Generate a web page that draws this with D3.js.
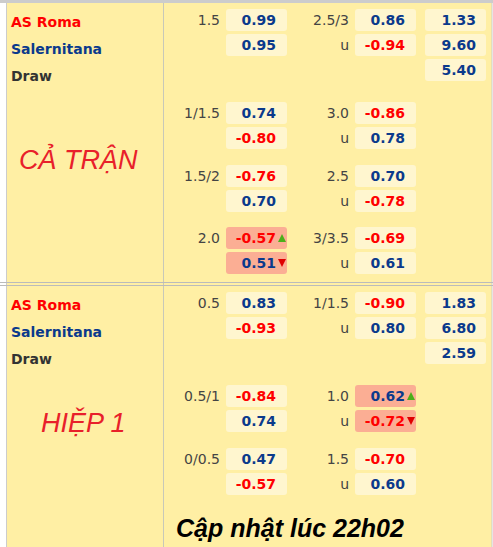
<!DOCTYPE html>
<html><head><meta charset="utf-8">
<script src="https://cdn.jsdelivr.net/npm/d3@7"></script>
<style>body{margin:0;background:#fff}svg{display:block}</style>
</head><body><svg id="c" width="493" height="547"></svg>
<script>
// rows: [col1Label, col1Val, col2Label, col2Val]
const teams = ["AS Roma", "Salernitana", "Draw"];
const teamColors = ["#ff0000", "#0b3a8c", "#333"];
const sections = ["CẢ TRẬN", "HIỆP 1"];
const handicap = [
  // section 0
  [["1.5", 0.99, "2.5/3", 0.86], ["", 0.95, "u", -0.94],
   ["1/1.5", 0.74, "3.0", -0.86], ["", -0.80, "u", 0.78],
   ["1.5/2", -0.76, "2.5", 0.70], ["", 0.70, "u", -0.78],
   ["2.0", -0.57, "3/3.5", -0.69], ["", 0.51, "u", 0.61]],
  // section 1
  [["0.5", 0.83, "1/1.5", -0.90], ["", -0.93, "u", 0.80],
   ["0.5/1", -0.84, "1.0", 0.62], ["", 0.74, "u", -0.72],
   ["0/0.5", 0.47, "1.5", -0.70], ["", -0.57, "u", 0.60]]
];
const odds1x2 = [["1.33", "9.60", "5.40"], ["1.83", "6.80", "2.59"]];
// highlighted cells: [section, row, col, dir]
const changed = [[0, 6, 0, "up"], [0, 7, 0, "down"], [1, 2, 1, "up"], [1, 3, 1, "down"]];
const footer = "Cập nhật lúc 22h02";

const svg = d3.select("#c");
const font = "Tahoma, 'DejaVu Sans', sans-serif";
const blue = "#0b3a8c", red = "#ff0000";

svg.append("rect").attr("width", 493).attr("height", 547).attr("fill", "#fff");
svg.append("rect").attr("x", 6).attr("y", 3).attr("width", 486).attr("height", 544).attr("fill", "#ffefa4");
svg.append("line").attr("x1", 0).attr("x2", 493).attr("y1", 1.5).attr("y2", 1.5).attr("stroke", "#ccc").attr("stroke-width", 3);
svg.append("line").attr("x1", 6.5).attr("x2", 6.5).attr("y1", 0).attr("y2", 547).attr("stroke", "#ccc");
svg.append("line").attr("x1", 492).attr("x2", 492).attr("y1", 0).attr("y2", 547).attr("stroke", "#ccc");
svg.append("line").attr("x1", 163.5).attr("x2", 163.5).attr("y1", 3).attr("y2", 547).attr("stroke", "#c8c8b8");
svg.append("line").attr("x1", 0).attr("x2", 493).attr("y1", 282.5).attr("y2", 282.5).attr("stroke", "#bbb");
svg.append("line").attr("x1", 0).attr("x2", 493).attr("y1", 285.5).attr("y2", 285.5).attr("stroke", "#bbb");

const secTop = [9, 292];
const groupTops = [[9, 102, 165, 227], [292, 385, 448]];
const labelCenter = [[160, 423], [19, 41]];
const colBox = [226, 355];
const boxW = 61, boxH = 22, pitch = 25;

sections.forEach((s, si) => {
  const top = secTop[si];
  teams.forEach((t, i) => {
    svg.append("text").attr("x", 11).attr("y", top + 13 + i * 27 + 5)
      .attr("font-family", font).attr("font-weight", "bold").attr("font-size", 14)
      .attr("fill", teamColors[i]).text(t);
  });
  svg.append("text").attr("x", labelCenter[1][si]).attr("y", labelCenter[0][si] + 9)
    .attr("font-family", "'Liberation Sans', Arial, sans-serif").attr("font-style", "italic")
    .attr("font-size", 27).attr("fill", "#e8202a").text(s);

  odds1x2[si].forEach((v, i) => {
    const y = top + i * pitch;
    svg.append("rect").attr("x", 425).attr("y", y).attr("width", boxW).attr("height", boxH).attr("rx", 3).attr("fill", "#fff6cf");
    svg.append("text").attr("x", 476).attr("y", y + 16).attr("text-anchor", "end")
      .attr("font-family", font).attr("font-weight", "bold").attr("font-size", 14).attr("fill", blue).text(v);
  });

  handicap[si].forEach((r, ri) => {
    const y = groupTops[si][Math.floor(ri / 2)] + (ri % 2) * pitch;
    [0, 1].forEach(c => {
      const lab = r[c * 2], val = r[c * 2 + 1];
      const ch = changed.find(d => d[0] === si && d[1] === ri && d[2] === c);
      svg.append("text").attr("x", colBox[c] - 6).attr("y", y + 16).attr("text-anchor", "end")
        .attr("font-family", font).attr("font-size", 14).attr("fill", "#444").text(lab);
      svg.append("rect").attr("x", colBox[c]).attr("y", y).attr("width", boxW).attr("height", boxH).attr("rx", 3)
        .attr("fill", ch ? "#fbae94" : "#fff6cf");
      svg.append("text").attr("x", colBox[c] + 50).attr("y", y + 16).attr("text-anchor", "end")
        .attr("font-family", font).attr("font-weight", "bold").attr("font-size", 14)
        .attr("fill", val < 0 ? red : blue).text(val.toFixed(2));
      if (ch) {
        const x0 = colBox[c] + 52, cy = y + 11;
        const pts = ch[3] === "up"
          ? [[x0, cy + 4], [x0 + 8, cy + 4], [x0 + 4, cy - 4]]
          : [[x0, cy - 4], [x0 + 8, cy - 4], [x0 + 4, cy + 4]];
        svg.append("path").attr("d", d3.line()(pts) + "Z").attr("fill", ch[3] === "up" ? "#4caf1a" : "#e00000");
      }
    });
  });
});

svg.append("text").attr("x", 290).attr("y", 537).attr("text-anchor", "middle")
  .attr("font-family", "'Liberation Sans', Arial, sans-serif").attr("font-style", "italic").attr("font-weight", "bold")
  .attr("font-size", 25).attr("fill", "#000").text(footer);
</script></body></html>
